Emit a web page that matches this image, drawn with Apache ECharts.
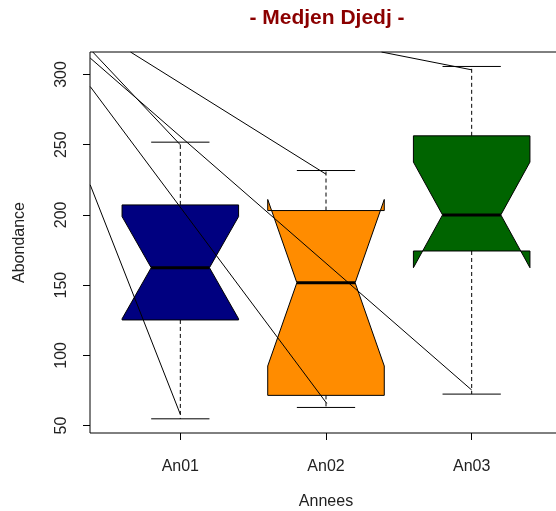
<!DOCTYPE html>
<html>
<head>
<meta charset="utf-8">
<script src="https://cdn.jsdelivr.net/npm/echarts@6/dist/echarts.min.js"></script>
<style>
html,body{margin:0;padding:0;background:#fff;overflow:hidden;width:556px;height:511px;}
#chart{width:600px;height:511px;}
</style>
</head>
<body>
<div id="chart"></div>
<script>
// ---- data ----
const categories = ['An01', 'An02', 'An03'];
const whiskerLow = [54.8, 62.9, 72.4];
const q1 = [125.2, 71.5, 174.3];
const median = [162.4, 151.7, 200.0];
const q3 = [207.1, 203.1, 256.3];
const whiskerHigh = [251.8, 231.6, 305.7];
const notchHalf = [36.4, 59.3, 37.6];
const boxColors = ['#000080', '#FF8C00', '#006400'];
const yTicks = [50, 100, 150, 200, 250, 300];
// extra straight lines (start -> end, in data units)
const segStart = [[0.3815, 221.4], [0.3815, 291.4], [0.3815, 311.7], [0.399, 316.0], [0.658, 316.0], [2.381, 316.0]];
const segEnd = [[1, 58.0], [2.005, 65.8], [3, 75.3], [1, 249.9], [2, 229.0], [3, 303.3]];

const FONT = 'Liberation Sans, Arial, sans-serif';
const chart = echarts.init(document.getElementById('chart'), null, {renderer: 'canvas'});

const boxData = categories.map((c, i) => [i + 1, whiskerLow[i], q1[i], median[i], q3[i], whiskerHigh[i], notchHalf[i]]);

function renderBox(params, api) {
  const i = params.dataIndex;
  const x = api.value(0);
  const lo = api.value(1), b1 = api.value(2), md = api.value(3), b3 = api.value(4), hi = api.value(5), nh = api.value(6);
  const w = 0.4, s = 0.2;
  const P = (dx, v) => api.coord([x + dx, v]);
  const nlo = md - nh, nhi = md + nh;
  const poly = [P(-w, b1), P(-w, nlo), P(-w / 2, md), P(-w, nhi), P(-w, b3), P(w, b3), P(w, nhi), P(w / 2, md), P(w, nlo), P(w, b1)];
  const dash = {stroke: '#000', lineWidth: 1, lineDash: [4, 3]};
  const solid = {stroke: '#000', lineWidth: 1};
  const seg = (a, b, style) => ({type: 'line', shape: {x1: a[0], y1: a[1], x2: b[0], y2: b[1]}, style: style});
  return {
    type: 'group',
    children: [
      seg(P(0, b3), P(0, hi), dash),
      seg(P(0, b1), P(0, lo), dash),
      seg(P(-s, hi), P(s, hi), solid),
      seg(P(-s, lo), P(s, lo), solid),
      {type: 'polygon', shape: {points: poly}, style: {fill: boxColors[i], stroke: '#000', lineWidth: 1}},
      seg(P(-w / 2, md), P(w / 2, md), {stroke: '#000', lineWidth: 3})
    ]
  };
}

const lineSeries = segStart.map((st, k) => ({
  type: 'line',
  data: [st, segEnd[k]],
  symbol: 'none',
  clip: true,
  silent: true,
  lineStyle: {color: '#000', width: 1},
  z: 10
}));

chart.setOption({
  animation: false,
  backgroundColor: '#fff',
  title: {
    text: '- Medjen Djedj -',
    left: 322,
    textAlign: 'center',
    top: 3,
    textStyle: {color: '#8B0000', fontSize: 21, fontWeight: 'bold', fontFamily: FONT}
  },
  grid: {left: 90, top: 52, width: 472, height: 381, show: true, borderColor: '#000', borderWidth: 1, backgroundColor: 'transparent', containLabel: false, outerBoundsMode: 'none'},
  xAxis: {
    type: 'value', min: 0.38, max: 3.62,
    splitLine: {show: false},
    axisLine: {show: false},
    axisTick: {show: true, length: 7, lineStyle: {color: '#000'}, customValues: [1, 2, 3]},
    axisLabel: {customValues: [1, 2, 3], formatter: v => categories[Math.round(v) - 1], color: '#222', fontSize: 16, fontFamily: FONT, margin: 26},
    name: 'Annees', nameLocation: 'middle', nameGap: 61,
    nameTextStyle: {color: '#222', fontSize: 16, fontFamily: FONT}
  },
  yAxis: {
    type: 'value', min: 44.7, max: 316.0,
    splitLine: {show: false},
    axisLine: {show: false},
    axisTick: {show: true, length: 7, lineStyle: {color: '#000'}, customValues: yTicks},
    axisLabel: {customValues: yTicks, rotate: 90, color: '#222', fontSize: 16, fontFamily: FONT, margin: 20},
    name: 'Abondance', nameLocation: 'middle', nameGap: 62, nameRotate: 90,
    nameTextStyle: {color: '#222', fontSize: 16, fontFamily: FONT}
  },
  series: [
    {type: 'custom', data: boxData, renderItem: renderBox, encode: {x: 0, y: [1, 2, 3, 4, 5]}, z: 2, silent: true}
  ].concat(lineSeries)
});
</script>
</body>
</html>
